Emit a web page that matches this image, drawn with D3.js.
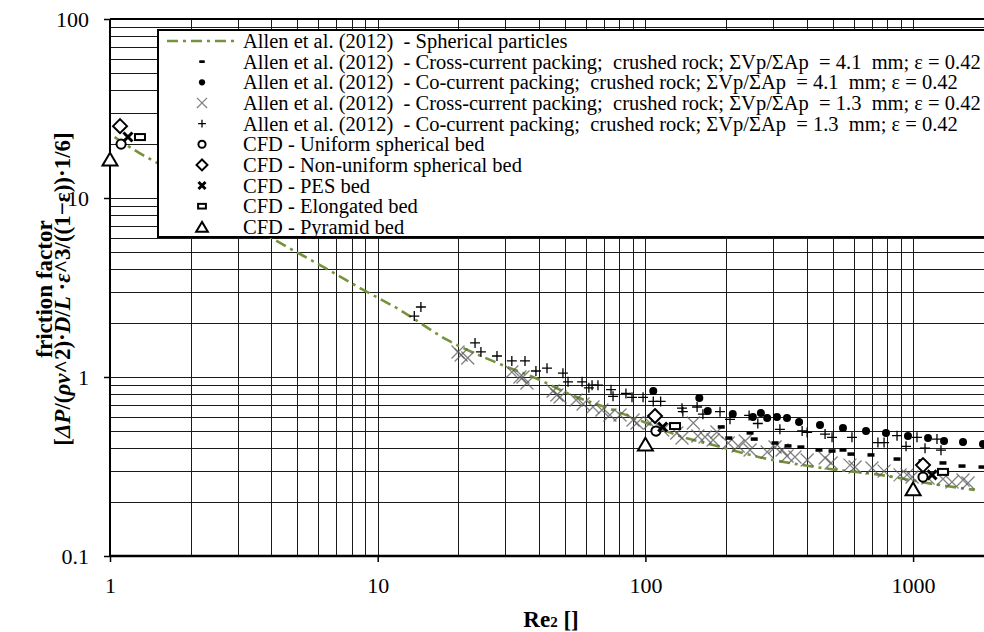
<!DOCTYPE html>
<html>
<head>
<meta charset="utf-8">
<script src="https://d3js.org/d3.v7.min.js"></script>
<style>
  body { margin: 0; background: #fff; }
  svg { display: block; font-family: "Liberation Serif", "Times New Roman", serif; }
  .grid line { stroke: #1a1a1a; stroke-width: 1; shape-rendering: crispEdges; }
  .grid .domain { display: none; }
  .axis text { font-size: 22px; fill: #000; font-family: "Liberation Serif", serif; }
  .axis line { stroke: #000; stroke-width: 1.5; }
  .axis .domain { display: none; }
  .legend text { font-size: 20.5px; fill: #000; }
  .title { font-weight: bold; font-size: 23px; fill: #000; }
</style>
</head>
<body>
<svg width="984" height="632"></svg>
<script>
// values (Re2, friction factor)
const sphRe = [1.04, 1.29, 1.50, 4.32, 6.09, 8.59, 12.1, 18.2, 27.9, 40.4, 50.9, 75.7, 101, 131, 179, 275, 460, 752, 1260, 1700];
const sphF  = [21.9, 17.8, 15.7, 5.61, 4.22, 3.14, 2.37, 1.61, 1.20, 0.962, 0.814, 0.654, 0.553, 0.474, 0.417, 0.353, 0.310, 0.284, 0.249, 0.234];

const cross41Re = [192, 205, 246, 255, 305, 341, 381, 445, 498, 547, 586, 696, 871, 1080, 1293, 1523, 1809];
const cross41F  = [0.526, 0.456, 0.487, 0.450, 0.428, 0.412, 0.406, 0.391, 0.386, 0.391, 0.371, 0.367, 0.348, 0.340, 0.331, 0.318, 0.314];

const co41Re = [107, 159, 171, 212, 252, 270, 285, 310, 338, 375, 449, 547, 667, 792, 957, 1137, 1305, 1536, 1824];
const co41F  = [0.835, 0.763, 0.646, 0.621, 0.598, 0.629, 0.590, 0.598, 0.590, 0.561, 0.539, 0.519, 0.499, 0.487, 0.468, 0.456, 0.439, 0.433, 0.422];

const cross13Re = [19.95, 20.5, 21.7, 31.7, 34.0, 34.9, 36.1, 45.2, 46.7, 48.0, 55.1, 58.5, 63.7, 68.8, 73.7, 80.4, 89.9, 93.0, 104, 116, 131, 137, 151, 157, 167, 179, 185, 204, 222, 236, 246, 285, 305, 324, 338, 362, 402, 469, 494, 581, 607, 702, 779, 894, 949, 991, 1137, 1293, 1397, 1536, 1604];
const cross13F  = [1.379, 1.327, 1.277, 1.066, 1.0, 1.0, 0.926, 0.835, 0.793, 0.773, 0.744, 0.707, 0.680, 0.654, 0.613, 0.613, 0.575, 0.553, 0.553, 0.506, 0.487, 0.456, 0.553, 0.468, 0.462, 0.445, 0.493, 0.428, 0.412, 0.439, 0.391, 0.381, 0.406, 0.391, 0.362, 0.357, 0.344, 0.353, 0.331, 0.322, 0.314, 0.310, 0.298, 0.284, 0.284, 0.276, 0.273, 0.269, 0.259, 0.266, 0.256];

const co13Re = [13.7, 14.5, 23.1, 24.3, 27.9, 31.7, 35.5, 39.0, 42.9, 49.2, 51.4, 58.0, 61.5, 63.2, 66.5, 74.4, 75.7, 84.6, 89.1, 98.0, 107, 114, 137, 138, 156, 164, 190, 207, 244, 263, 318, 385, 402, 469, 498, 591, 739, 779, 871, 941, 1034, 1108, 1228, 1271];
const co13F  = [2.19, 2.46, 1.55, 1.38, 1.31, 1.23, 1.23, 1.08, 1.12, 1.05, 0.94, 0.94, 0.87, 0.90, 0.90, 0.85, 0.78, 0.81, 0.77, 0.77, 0.73, 0.73, 0.67, 0.64, 0.68, 0.62, 0.64, 0.58, 0.61, 0.55, 0.51, 0.50, 0.49, 0.48, 0.46, 0.46, 0.43, 0.43, 0.47, 0.41, 0.46, 0.40, 0.45, 0.39];

const uniformRe = [1.10, 109.5, 1089];  const uniformF = [20.0, 0.499, 0.276];
const nonUniformRe = [1.09, 108.6, 1089]; const nonUniformF = [25.2, 0.605, 0.322];
const pesRe = [1.167, 116, 1177];       const pesF = [21.9, 0.526, 0.284];
const elongRe = [1.294, 129, 1293];     const elongF = [21.9, 0.532, 0.295];
const pyramidRe = [1.0, 100, 1000];     const pyramidF = [16.5, 0.422, 0.237];

const legendLabels = [
  "Allen et al. (2012)  - Spherical particles",
  "Allen et al. (2012)  - Cross-current packing;  crushed rock; ΣVp/ΣAp  = 4.1  mm; ε = 0.42",
  "Allen et al. (2012)  - Co-current packing;  crushed rock; ΣVp/ΣAp  = 4.1  mm; ε = 0.42",
  "Allen et al. (2012)  - Cross-current packing;  crushed rock; ΣVp/ΣAp  = 1.3  mm; ε = 0.42",
  "Allen et al. (2012)  - Co-current packing;  crushed rock; ΣVp/ΣAp  = 1.3  mm; ε = 0.42",
  "CFD - Uniform spherical bed",
  "CFD - Non-uniform spherical bed",
  "CFD - PES bed",
  "CFD - Elongated bed",
  "CFD - Pyramid bed"
];
const legendMarkers = ["line", "dash", "dot", "xgray", "plus", "circle", "diamond", "xbold", "rect", "triangle"];

const xTicks = [1, 10, 100, 1000];
const yTicks = [0.1, 1, 10, 100];

const margin = {top: 19, left: 110};
const decadeW = 267.7;
const innerHeight = 537;
const green = "#76923c";

const svg = d3.select("svg");
const x = d3.scaleLog().domain([1, 2000]).range([0, decadeW * Math.log10(2000)]);
const y = d3.scaleLog().domain([0.1, 100]).range([innerHeight, 0]);
const innerWidth = x.range()[1];

const g = svg.append("g").attr("transform", `translate(${margin.left},${margin.top})`);

// minor grid
const gridVals = (lo, hi) => {
  const v = [];
  for (let e = Math.log10(lo); e < Math.log10(hi); e++)
    for (let m = 1; m <= 9; m++) { const t = m * Math.pow(10, e); if (t >= lo && t <= hi) v.push(t); }
  return v;
};
g.append("g").attr("class", "grid")
  .attr("transform", `translate(0,${innerHeight})`)
  .call(d3.axisBottom(x).tickValues(gridVals(1, 2000)).tickSize(-innerHeight).tickFormat(""));
g.append("g").attr("class", "grid")
  .call(d3.axisLeft(y).tickValues(gridVals(0.1, 100)).tickSize(-innerWidth).tickFormat(""));

// frame
g.append("line").attr("x1", 0).attr("x2", innerWidth).attr("y1", 0).attr("y2", 0)
  .attr("stroke", "#000").attr("stroke-width", 2);
g.append("line").attr("x1", 0).attr("x2", 0).attr("y1", 0).attr("y2", innerHeight)
  .attr("stroke", "#000").attr("stroke-width", 2);
g.append("line").attr("x1", 0).attr("x2", innerWidth).attr("y1", innerHeight).attr("y2", innerHeight)
  .attr("stroke", "#000").attr("stroke-width", 2.5);

// marker shapes
function marker(sel, type, s) {
  s = s || 1;
  if (type === "dash") {
    sel.append("rect").attr("x", -3.5 * s).attr("y", -1.75 * s).attr("width", 7 * s).attr("height", 3.5 * s).attr("fill", "#000");
  } else if (type === "dot") {
    sel.append("circle").attr("r", 4 * s).attr("fill", "#000");
  } else if (type === "xgray") {
    const h = 6.5 * s;
    sel.append("path").attr("d", `M${-h},${-h}L${h},${h}M${-h},${h}L${h},${-h}`)
      .attr("stroke", "#5a5a5a").attr("stroke-opacity", 0.75).attr("stroke-width", 1.3).attr("fill", "none");
  } else if (type === "plus") {
    const h = 5 * s;
    sel.append("path").attr("d", `M${-h},0H${h}M0,${-h}V${h}`)
      .attr("stroke", "#000").attr("stroke-width", 1.3).attr("fill", "none");
  } else if (type === "circle") {
    sel.append("circle").attr("r", 4.6 * s).attr("fill", "#fff").attr("stroke", "#000").attr("stroke-width", 2);
  } else if (type === "diamond") {
    const h = 7 * s;
    sel.append("path").attr("d", `M0,${-h}L${h},0L0,${h}L${-h},0Z`)
      .attr("fill", "#fff").attr("stroke", "#000").attr("stroke-width", 2);
  } else if (type === "xbold") {
    const h = 4.5 * s;
    sel.append("path").attr("d", `M${-h},${-h}L${h},${h}M${-h},${h}L${h},${-h}`)
      .attr("stroke", "#000").attr("stroke-width", 3).attr("fill", "none");
  } else if (type === "rect") {
    sel.append("rect").attr("x", -5 * s).attr("y", -3 * s).attr("width", 10 * s).attr("height", 6 * s)
      .attr("fill", "#fff").attr("stroke", "#000").attr("stroke-width", 2);
  } else if (type === "triangle") {
    const h = 7.5 * s;
    sel.append("path").attr("d", `M0,${-h * 0.85}L${h},${h * 0.85}L${-h},${h * 0.85}Z`)
      .attr("fill", "#fff").attr("stroke", "#000").attr("stroke-width", 2);
  }
}

// spherical curve
const sphData = sphRe.map((r, i) => [r, sphF[i]]);
g.append("path").datum(sphData)
  .attr("fill", "none").attr("stroke", green).attr("stroke-width", 2.6)
  .attr("stroke-dasharray", "11,5,3,5")
  .attr("d", d3.line().x(d => x(d[0])).y(d => y(d[1])).curve(d3.curveMonotoneX));

function scatter(reArr, fArr, type) {
  g.append("g").selectAll("g").data(reArr.map((r, i) => [r, fArr[i]])).join("g")
    .attr("transform", d => `translate(${x(d[0])},${y(d[1])})`)
    .each(function() { marker(d3.select(this), type); });
}
scatter(cross13Re, cross13F, "xgray");
scatter(co13Re, co13F, "plus");
scatter(cross41Re, cross41F, "dash");
scatter(co41Re, co41F, "dot");
scatter(pyramidRe, pyramidF, "triangle");
scatter(nonUniformRe, nonUniformF, "diamond");
scatter(uniformRe, uniformF, "circle");
scatter(pesRe, pesF, "xbold");
scatter(elongRe, elongF, "rect");

// axes
const xAxisG = g.append("g").attr("class", "axis")
  .attr("transform", `translate(0,${innerHeight})`)
  .call(d3.axisBottom(x).tickValues(xTicks).tickSize(6).tickPadding(15).tickFormat(d3.format("d")));
const yAxisG = g.append("g").attr("class", "axis")
  .call(d3.axisLeft(y).tickValues(yTicks).tickSize(6).tickPadding(15).tickFormat(d => d < 1 ? "0.1" : d3.format("d")(d)));
yAxisG.selectAll("text").attr("font-size", 22);

// legend
const legendG = svg.append("g").attr("class", "legend");
legendG.append("rect").attr("x", 158).attr("y", 30).attr("width", 900).attr("height", 207)
  .attr("fill", "#fff").attr("stroke", "#000").attr("stroke-width", 2);
const rowH = 20.65;
const rows = legendG.selectAll(".row").data(legendLabels).join("g").attr("class", "row")
  .attr("transform", (d, i) => `translate(0,${41 + i * rowH})`);
rows.append("text").attr("x", 243).attr("dy", "0.34em").attr("xml:space", "preserve")
  .style("white-space", "pre").text(d => d);
rows.each(function(d, i) {
  const t = legendMarkers[i];
  if (t === "line") {
    d3.select(this).append("line").attr("x1", 167).attr("x2", 238)
      .attr("stroke", green).attr("stroke-width", 2.6).attr("stroke-dasharray", "11,5,3,5");
  } else {
    marker(d3.select(this).append("g").attr("transform", "translate(202,0)"), t, 0.78);
  }
});

// axis titles
svg.append("text").attr("class", "title").attr("x", 551).attr("y", 627)
  .attr("text-anchor", "middle")
  .call(t => { t.append("tspan").text("Re"); t.append("tspan").attr("font-size", 15).text("2"); t.append("tspan").text(" []"); });
svg.append("text").attr("class", "title").attr("text-anchor", "middle")
  .attr("transform", "translate(52,289) rotate(-90)").text("friction factor");
const yt = svg.append("text").attr("class", "title").attr("text-anchor", "middle")
  .attr("transform", "translate(70,289) rotate(-90)");
[["[", 0], ["ΔP", 1], ["/(", 0], ["ρv", 1], ["^2)·", 0], ["D", 1], ["/", 0], ["L", 1], [" ·", 0], ["ε", 1], ["^3/((1−ε))·1/6]", 0]]
  .forEach(p => yt.append("tspan").attr("font-style", p[1] ? "italic" : "normal").text(p[0]));
</script>
</body>
</html>
